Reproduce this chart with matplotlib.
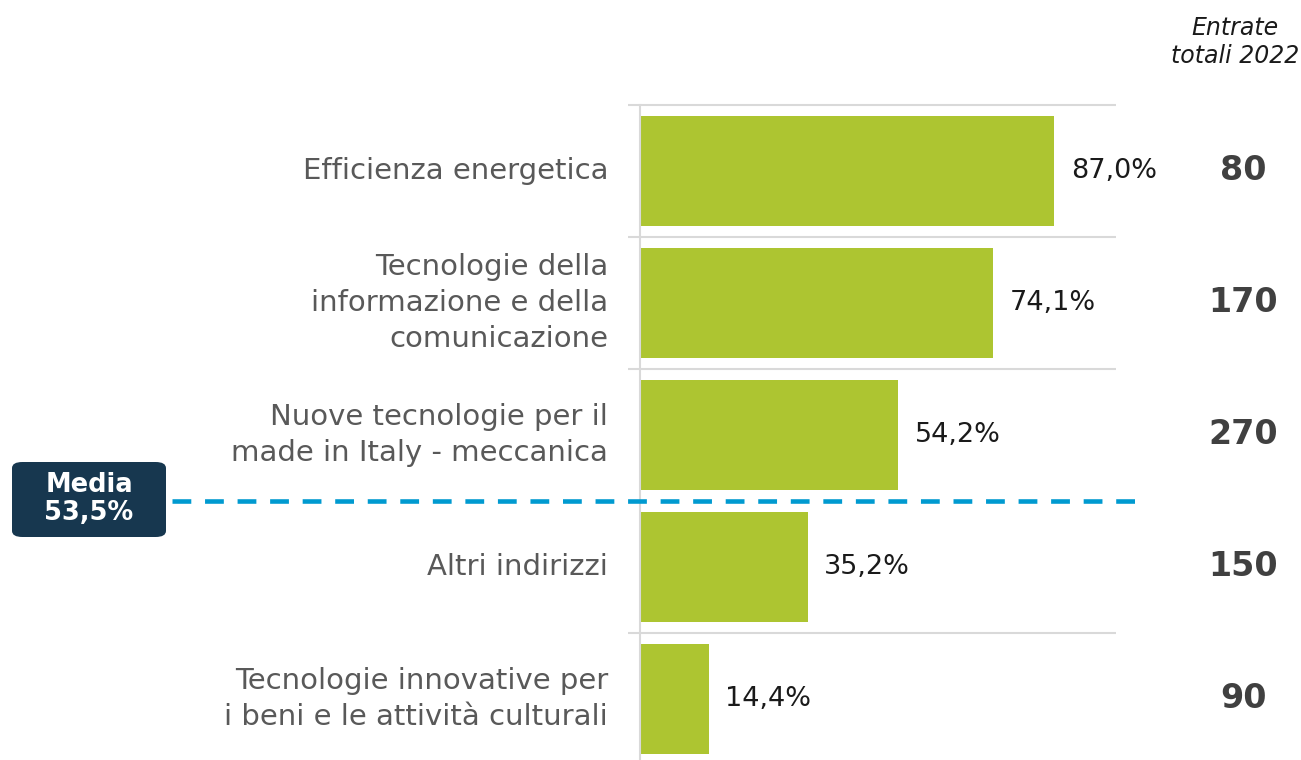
import matplotlib.pyplot as plt
from matplotlib.patches import FancyBboxPatch
import numpy as np

plt.rcParams['font.family'] = ['DejaVu Sans']

categorie = [
    "Efficienza energetica",
    "Tecnologie della\ninformazione e della\ncomunicazione",
    "Nuove tecnologie per il\nmade in Italy - meccanica",
    "Altri indirizzi",
    "Tecnologie innovative per\ni beni e le attività culturali",
]
quote = [87.0, 74.1, 54.2, 35.2, 14.4]
entrate = [80, 170, 270, 150, 90]
media = 53.5

verde = "#adc531"
grigio = "#d9d9d9"

W, H = 1301, 760
fig = plt.figure(figsize=(W / 100, H / 100), dpi=100)

# assi: da x=640 a 1116 px, da y=105 a 760 px
ax = fig.add_axes([640 / W, 0, (1116 - 640) / W, (760 - 105) / H])
y = np.arange(len(categorie))
ax.barh(y, quote, height=0.833, color=verde, zorder=2)
ax.set_xlim(0, 100)
ax.set_ylim(-0.5 + 655 / 132, -0.5)

for s in ["top", "right", "bottom"]:
    ax.spines[s].set_visible(False)
ax.spines["left"].set_color(grigio)
ax.spines["left"].set_linewidth(1.5)
ax.set_xticks([])
ax.set_yticks([])

# separatori tra categorie
for yy in np.arange(-0.5, len(categorie) - 0.5, 1.0):
    if yy == 2.5:
        continue
    ax.hlines(yy, -2.5, 100, color=grigio, lw=1.5, clip_on=False, zorder=1)

for i, (c, q, e) in enumerate(zip(categorie, quote, entrate)):
    ax.text(-6.7, i, c, ha="right", va="center", fontsize=21, color="#595959",
            linespacing=1.35)
    ax.text(q + 3.5, i, f"{q:.1f}%".replace(".", ","), ha="left", va="center",
            fontsize=19.5, color="#1a1a1a")
    fig.text(1243 / W, 1 - (171 + 132 * i) / H, str(e), ha="center", va="center",
             fontsize=24, fontweight="bold", color="#404040")

# linea della media
ax.hlines(2.5, -98.3, 105, color="#009ad0", lw=3.3, linestyles=(0, (4.1, 3.0)),
          clip_on=False, zorder=3)

box = FancyBboxPatch((12 / W, 1 - 537 / H), (166 - 12) / W, (537 - 462) / H,
                     boxstyle="round,pad=0,rounding_size=0.008",
                     transform=fig.transFigure, facecolor="#17374f",
                     edgecolor="none")
fig.patches.append(box)
fig.text(89 / W, 1 - 499.5 / H, f"Media\n{media:.1f}%".replace(".", ","),
         ha="center", va="center", fontsize=18.5, fontweight="bold",
         color="white", linespacing=1.1)

fig.text(1235 / W, 1 - 42 / H, "Entrate\ntotali 2022", ha="center", va="center",
         fontsize=17, style="italic", color="#1a1a1a", linespacing=1.25)

fig.savefig("out.png", dpi=100)
